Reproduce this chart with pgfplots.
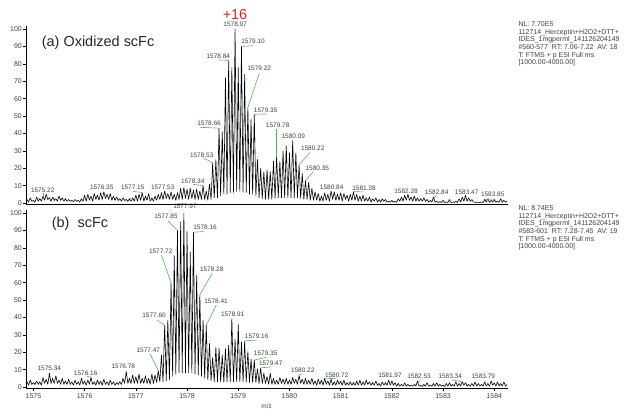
\documentclass[border=0pt]{standalone}
\usepackage{fontspec}
\setmainfont{Liberation Sans}
\usepackage{pgfplots}
\pgfplotsset{compat=1.18}
\definecolor{lblgreen}{RGB}{70,190,70}
\definecolor{plusred}{RGB}{230,35,35}
\definecolor{txtgray}{gray}{0.25}
\pgfplotsset{
 msstyle/.style={
  scale only axis, width=482bp, height=178bp,
  xmin=1574.855, xmax=1584.268, ymin=-0.8, ymax=101.5,
  axis x line=bottom, axis y line=left,
  axis line style={-, black, line width=0.6pt},
  tick align=outside, major tick length=3bp, minor tick length=1.8bp,
  tick style={black, line width=0.5pt},
  ytick={0,10,...,100},
  tick label style={font=\fontsize{7}{8}\selectfont, text=txtgray},
  /pgf/number format/assume math mode=true,
  /pgf/number format/1000 sep={},
  yticklabel style={inner sep=1bp},
  xticklabel style={inner sep=2bp},
  clip=false,
 },
 spec/.style={black, line width=0.6pt, no marks, line join=miter, miter limit=2},
}
\tikzset{
 lbl/.style={font=\fontsize{6.5}{7}\selectfont, text=txtgray, inner sep=0pt},
 gl/.style={lblgreen, line width=0.6pt},
 side/.style={anchor=north west, align=left, inner sep=0pt, font=\fontsize{7}{7.7}\selectfont, text=txtgray},
}
\begin{document}
\begin{tikzpicture}
\useasboundingbox (0,0) rectangle (625bp,409bp);
% ---------------- top panel: (a) oxidized scFc ----------------
\begin{axis}[msstyle, at={(26bp,204.6bp)}, anchor=south west, xtick=\empty]
\addplot[spec] coordinates {
(1574.875,2)(1574.906,0.5)(1574.938,3)(1574.969,1)
(1575.000,1.5)(1575.031,0.5)(1575.063,3.5)(1575.094,1)(1575.125,2.5)(1575.156,1)(1575.188,4)(1575.219,1.5)
(1575.250,5)(1575.281,2)(1575.313,3)(1575.344,1)(1575.375,3.5)(1575.406,1.5)(1575.438,2.5)(1575.469,1)
(1575.500,4)(1575.531,1.5)(1575.563,3)(1575.594,1)(1575.625,2.5)(1575.656,1)(1575.688,2)(1575.719,1)
(1575.750,1.5)(1575.781,0.8)(1575.813,2)(1575.844,1)(1575.875,1.5)(1575.906,0.5)(1575.938,2.5)(1575.969,1)
(1576.000,4.5)(1576.031,1)(1576.063,5)(1576.094,1.5)(1576.125,4)(1576.156,1)(1576.188,5.5)(1576.219,2)
(1576.250,4.5)(1576.281,1.5)(1576.313,6)(1576.344,2)(1576.375,6.5)(1576.406,2.5)(1576.438,5)(1576.469,2)
(1576.500,5.5)(1576.531,1.5)(1576.563,4)(1576.594,1.5)(1576.625,3.5)(1576.656,1.5)(1576.688,2.5)(1576.719,1)
(1576.750,3)(1576.781,1.5)(1576.813,2)(1576.844,1)(1576.875,2.5)(1576.906,1)(1576.938,3)(1576.969,1)
(1577.000,4.5)(1577.031,1)(1577.063,5)(1577.094,1.5)(1577.125,6)(1577.156,1)(1577.188,4)(1577.219,1.5)
(1577.250,5.5)(1577.281,1)(1577.313,3)(1577.344,1)(1577.375,4)(1577.406,1.5)(1577.438,5)(1577.469,2)
(1577.500,6)(1577.531,2)(1577.563,7)(1577.594,2.5)(1577.625,5.5)(1577.656,2)(1577.688,6.5)(1577.719,2)
(1577.750,5)(1577.781,1.5)(1577.813,6)(1577.844,2)(1577.875,8.5)(1577.906,2)(1577.938,9)(1577.969,2.5)
(1578.000,8)(1578.031,2)(1578.063,8.5)(1578.094,2.5)(1578.125,7.5)(1578.156,2)(1578.188,8)(1578.219,2)
(1578.250,7)(1578.281,2)(1578.313,10)(1578.344,2)(1578.375,7)(1578.406,1.5)(1578.438,11)(1578.469,2)
(1578.500,23)(1578.531,3)(1578.563,25)(1578.594,3)(1578.625,43)(1578.656,4)(1578.688,41)(1578.719,5)
(1578.750,72)(1578.781,5)(1578.813,82)(1578.844,6)(1578.875,78)(1578.906,6)(1578.938,100)(1578.969,6.5)
(1579.000,78)(1579.031,6.5)(1579.063,90)(1579.094,6)(1579.125,74)(1579.156,6)(1579.188,55)(1579.219,5)
(1579.250,48)(1579.281,5)(1579.313,51)(1579.344,4)(1579.375,25)(1579.406,3)(1579.438,20)(1579.469,2.5)
(1579.500,18)(1579.531,2)(1579.563,19)(1579.594,2)(1579.625,18)(1579.656,2)(1579.688,24)(1579.719,2.5)
(1579.750,27)(1579.781,3)(1579.813,24)(1579.844,3)(1579.875,30)(1579.906,3)(1579.938,33)(1579.969,3)
(1580.000,29)(1580.031,3)(1580.063,36)(1580.094,3)(1580.125,29)(1580.156,3)(1580.188,22)(1580.219,2.5)
(1580.250,17)(1580.281,2)(1580.313,13)(1580.344,2)(1580.375,12)(1580.406,1.5)(1580.438,8.5)(1580.469,1.5)
(1580.500,6.5)(1580.531,1.5)(1580.563,5.5)(1580.594,1)(1580.625,4)(1580.656,1)(1580.688,6)(1580.719,1.5)
(1580.750,5)(1580.781,1)(1580.813,7)(1580.844,2)(1580.875,6.5)(1580.906,1.5)(1580.938,5)(1580.969,1.5)
(1581.000,6)(1581.031,1)(1581.063,5.5)(1581.094,2)(1581.125,4.5)(1581.156,1)(1581.188,5)(1581.219,1.5)
(1581.250,6.5)(1581.281,1.5)(1581.313,5)(1581.344,1)(1581.375,4)(1581.406,1)(1581.438,4.5)(1581.469,1)
(1581.500,3)(1581.531,1)(1581.563,3.5)(1581.594,0.5)(1581.625,2.5)(1581.656,1)(1581.688,3)(1581.719,0.5)
(1581.750,2)(1581.781,0.5)(1581.813,2.5)(1581.844,1)(1581.875,2)(1581.906,0.5)(1581.938,1)(1581.969,0.5)
(1582.000,1.5)(1582.031,0.5)(1582.063,1)(1582.094,0.5)(1582.125,2.5)(1582.156,1)(1582.188,3.5)(1582.219,1)
(1582.250,4.5)(1582.281,1.5)(1582.313,5)(1582.344,1.5)(1582.375,3.5)(1582.406,1)(1582.438,4)(1582.469,1)
(1582.500,3)(1582.531,1)(1582.563,2.5)(1582.594,1)(1582.625,3)(1582.656,1)(1582.688,2)(1582.719,0.5)
(1582.750,1.5)(1582.781,0.5)(1582.813,3.5)(1582.844,0.5)(1582.875,1)(1582.906,0.3)(1582.938,0.8)(1582.969,0.3)
(1583.000,1.5)(1583.031,0.3)(1583.063,0.5)(1583.094,0.3)(1583.125,2)(1583.156,0.3)(1583.188,0.5)(1583.219,0.3)
(1583.250,1)(1583.281,0.3)(1583.313,2.5)(1583.344,0.5)(1583.375,3.5)(1583.406,1)(1583.438,4.5)(1583.469,1)
(1583.500,3)(1583.531,1)(1583.563,2)(1583.594,0.5)(1583.625,0.5)(1583.656,0.3)(1583.688,0.5)(1583.719,0.3)
(1583.750,0.5)(1583.781,0.3)(1583.813,2)(1583.844,0.5)(1583.875,2.5)(1583.906,0.5)(1583.938,1.5)(1583.969,0.5)
(1584.000,2)(1584.031,0.5)(1584.063,1)(1584.094,0.5)(1584.125,2.5)(1584.156,0.5)(1584.188,1.5)(1584.219,0.5)(1584.250,1)
};
% labels
\node[font=\fontsize{14.5}{16}\selectfont, text=plusred, inner sep=0pt] at (axis cs:1578.937,108.6) {+16};
\node[lbl] at (axis cs:1578.94,102.9) {1578.97};
\draw[gl] (axis cs:1579.0625,90) -- (axis cs:1579.29,90.4);
\node[lbl] at (axis cs:1579.29,93.2) {1579.10};
\draw[gl] (axis cs:1578.62,82.2) -- (axis cs:1578.8125,82);
\node[lbl] at (axis cs:1578.611,84.6) {1578.84};
\draw[gl] (axis cs:1579.41,74.5) -- (axis cs:1579.1875,55);
\node[lbl] at (axis cs:1579.411,77.2) {1579.22};
\draw[gl] (axis cs:1578.25,43.5) -- (axis cs:1578.625,43);
\node[lbl] at (axis cs:1578.429,45.6) {1578.66};
\draw[gl] (axis cs:1579.3125,51) -- (axis cs:1579.56,51.2);
\node[lbl] at (axis cs:1579.536,53.4) {1579.35};
\draw[gl] (axis cs:1579.75,42.3) -- (axis cs:1579.75,27);
\node[lbl] at (axis cs:1579.77,44.6) {1579.78};
\node[lbl] at (axis cs:1580.075,38.1) {1580.09};
\draw[gl] (axis cs:1580.40,29) -- (axis cs:1580.1875,22);
\node[lbl] at (axis cs:1580.454,31.4) {1580.22};
\draw[gl] (axis cs:1580.47,18) -- (axis cs:1580.3125,13);
\node[lbl] at (axis cs:1580.544,19.9) {1580.35};
\draw[gl] (axis cs:1578.32,26) -- (axis cs:1578.5,23);
\node[lbl] at (axis cs:1578.287,27.6) {1578.53};
\draw[gl] (axis cs:1578.12,10.7) -- (axis cs:1578.3125,10);
\node[lbl] at (axis cs:1578.111,12.4) {1578.34};
\node[lbl] at (axis cs:1577.525,8.8) {1577.53};
\draw[gl] (axis cs:1576.94,6.7) -- (axis cs:1577.125,6);
\node[lbl] at (axis cs:1576.939,8.8) {1577.15};
\node[lbl] at (axis cs:1576.334,8.8) {1576.35};
\draw[gl] (axis cs:1575.19,5.8) -- (axis cs:1575.19,4);
\node[lbl] at (axis cs:1575.182,7.4) {1575.22};
\node[lbl] at (axis cs:1580.825,8.8) {1580.84};
\draw[gl] (axis cs:1581.25,6.5) -- (axis cs:1581.45,6.4);
\node[lbl] at (axis cs:1581.456,8.3) {1581.28};
\node[lbl] at (axis cs:1582.276,6.8) {1582.28};
\draw[gl] (axis cs:1582.87,4.3) -- (axis cs:1582.82,3);
\node[lbl] at (axis cs:1582.875,6.2) {1582.84};
\node[lbl] at (axis cs:1583.461,6.2) {1583.47};
\draw[gl] (axis cs:1583.82,2) -- (axis cs:1584.0,2.4);
\node[lbl] at (axis cs:1583.97,4.8) {1583.85};
\end{axis}
% ---------------- bottom panel: (b) scFc ----------------
\begin{axis}[msstyle, at={(26bp,20.6bp)}, anchor=south west,
  xtick={1575,1576,...,1584}, minor x tick num=4]
\addplot[spec] coordinates {
(1574.875,3)(1574.906,1)(1574.938,4)(1574.969,1.5)
(1575.000,2.5)(1575.031,1.5)(1575.063,3.5)(1575.094,1.5)(1575.125,3)(1575.156,1)(1575.188,5.5)(1575.219,2)
(1575.250,4.5)(1575.281,1.5)(1575.313,8)(1575.344,2)(1575.375,5)(1575.406,2)(1575.438,6.5)(1575.469,2)
(1575.500,4)(1575.531,1.5)(1575.563,5)(1575.594,1.5)(1575.625,3.5)(1575.656,1.5)(1575.688,4.5)(1575.719,1.5)
(1575.750,3)(1575.781,1)(1575.813,4)(1575.844,1.5)(1575.875,3)(1575.906,1)(1575.938,5)(1575.969,1.5)
(1576.000,3.5)(1576.031,1)(1576.063,4)(1576.094,1.5)(1576.125,5.5)(1576.156,1.5)(1576.188,3)(1576.219,1)
(1576.250,4)(1576.281,1.5)(1576.313,3.5)(1576.344,1)(1576.375,4.5)(1576.406,1.5)(1576.438,3)(1576.469,1)
(1576.500,4)(1576.531,1.5)(1576.563,3)(1576.594,1)(1576.625,2.5)(1576.656,1.5)(1576.688,3)(1576.719,1.5)
(1576.750,5)(1576.781,2)(1576.813,9)(1576.844,2)(1576.875,5)(1576.906,2)(1576.938,7)(1576.969,2)
(1577.000,6)(1577.031,2)(1577.063,7.5)(1577.094,2)(1577.125,5)(1577.156,2)(1577.188,6.5)(1577.219,2)
(1577.250,5)(1577.281,1.5)(1577.313,7.5)(1577.344,2)(1577.375,7)(1577.406,2.5)(1577.438,9.5)(1577.469,3)
(1577.500,18.5)(1577.531,3)(1577.563,35.5)(1577.594,3.5)(1577.625,38.5)(1577.656,4)(1577.688,60)(1577.719,6)
(1577.750,75.5)(1577.781,7)(1577.813,90)(1577.844,8)(1577.875,95)(1577.906,8)(1577.938,100)(1577.969,8)
(1578.000,89.5)(1578.031,8)(1578.063,77.5)(1578.094,8)(1578.125,89)(1578.156,7.5)(1578.188,64.5)(1578.219,7)
(1578.250,53)(1578.281,6)(1578.313,38.5)(1578.344,5)(1578.375,35.5)(1578.406,4)(1578.438,25)(1578.469,3.5)
(1578.500,17)(1578.531,3)(1578.563,23)(1578.594,3)(1578.625,22.5)(1578.656,3)(1578.688,18.5)(1578.719,2.5)
(1578.750,22)(1578.781,3)(1578.813,24)(1578.844,3)(1578.875,39.5)(1578.906,3)(1578.938,27.5)(1578.969,3)
(1579.000,36)(1579.031,3)(1579.063,26)(1579.094,3)(1579.125,26.5)(1579.156,3)(1579.188,20.5)(1579.219,2.5)
(1579.250,16)(1579.281,2.5)(1579.313,15.5)(1579.344,2.5)(1579.375,10.5)(1579.406,2)(1579.438,11)(1579.469,2)
(1579.500,8)(1579.531,2)(1579.563,6)(1579.594,1.5)(1579.625,8)(1579.656,1.5)(1579.688,5)(1579.719,1.5)
(1579.750,4)(1579.781,1.5)(1579.813,5.5)(1579.844,2)(1579.875,4.5)(1579.906,1.5)(1579.938,5)(1579.969,1.5)
(1580.000,4)(1580.031,1.5)(1580.063,5.5)(1580.094,2)(1580.125,4.5)(1580.156,1.5)(1580.188,6.5)(1580.219,2)
(1580.250,4.5)(1580.281,1.5)(1580.313,5)(1580.344,1.5)(1580.375,4)(1580.406,1.5)(1580.438,5)(1580.469,1.5)
(1580.500,3.5)(1580.531,1)(1580.563,4.5)(1580.594,1.5)(1580.625,4)(1580.656,1)(1580.688,5)(1580.719,1.5)
(1580.750,3.5)(1580.781,1)(1580.813,4.5)(1580.844,1)(1580.875,3)(1580.906,1)(1580.938,4)(1580.969,1.5)
(1581.000,3.5)(1581.031,1)(1581.063,4)(1581.094,1)(1581.125,2.5)(1581.156,1)(1581.188,3)(1581.219,1)
(1581.250,2.5)(1581.281,1)(1581.313,3.5)(1581.344,1)(1581.375,4)(1581.406,1)(1581.438,3)(1581.469,1)
(1581.500,4)(1581.531,1.5)(1581.563,3)(1581.594,1)(1581.625,2.5)(1581.656,1)(1581.688,3.5)(1581.719,1)
(1581.750,2)(1581.781,0.5)(1581.813,3)(1581.844,1)(1581.875,2.5)(1581.906,1)(1581.938,4)(1581.969,1)
(1582.000,3.5)(1582.031,1)(1582.063,2.5)(1582.094,0.5)(1582.125,2)(1582.156,0.5)(1582.188,1.5)(1582.219,0.5)
(1582.250,2.5)(1582.281,0.5)(1582.313,1.5)(1582.344,0.5)(1582.375,1)(1582.406,0.5)(1582.438,1.5)(1582.469,0.5)
(1582.500,3.5)(1582.531,0.5)(1582.563,1)(1582.594,0.3)(1582.625,1.5)(1582.656,0.5)(1582.688,2.5)(1582.719,0.5)
(1582.750,1)(1582.781,0.5)(1582.813,2)(1582.844,0.5)(1582.875,2.5)(1582.906,0.5)(1582.938,1.5)(1582.969,0.5)
(1583.000,1)(1583.031,0.3)(1583.063,2)(1583.094,0.5)(1583.125,2.5)(1583.156,0.5)(1583.188,1.5)(1583.219,0.5)
(1583.250,3)(1583.281,0.5)(1583.313,2)(1583.344,0.5)(1583.375,3)(1583.406,1)(1583.438,2.5)(1583.469,0.5)
(1583.500,1.5)(1583.531,0.5)(1583.563,2)(1583.594,0.5)(1583.625,3)(1583.656,0.5)(1583.688,2)(1583.719,0.5)
(1583.750,1.5)(1583.781,0.5)(1583.813,3)(1583.844,0.5)(1583.875,2)(1583.906,0.5)(1583.938,3.5)(1583.969,1)
(1584.000,2.5)(1584.031,0.5)(1584.063,3)(1584.094,0.5)(1584.125,2)(1584.156,0.5)(1584.188,3)(1584.219,0.5)(1584.250,1.5)
};
\node[lbl] at (axis cs:1577.96,103.6) {1577.97};
\draw[gl] (axis cs:1577.63,95.4) -- (axis cs:1577.8125,90);
\node[lbl] at (axis cs:1577.589,97.9) {1577.85};
\draw[gl] (axis cs:1578.125,89) -- (axis cs:1578.33,89.3);
\node[lbl] at (axis cs:1578.351,91.6) {1578.16};
\draw[gl] (axis cs:1577.50,75.8) -- (axis cs:1577.6875,60);
\node[lbl] at (axis cs:1577.486,78.2) {1577.72};
\draw[gl] (axis cs:1578.49,65.3) -- (axis cs:1578.25,53);
\node[lbl] at (axis cs:1578.482,67.6) {1578.28};
\draw[gl] (axis cs:1578.57,47) -- (axis cs:1578.375,35.5);
\node[lbl] at (axis cs:1578.566,49.4) {1578.41};
\draw[gl] (axis cs:1577.41,38.5) -- (axis cs:1577.5625,35.5);
\node[lbl] at (axis cs:1577.355,41) {1577.60};
\node[lbl] at (axis cs:1578.892,41.8) {1578.91};
\draw[gl] (axis cs:1579.125,26.5) -- (axis cs:1579.36,27);
\node[lbl] at (axis cs:1579.36,29.2) {1579.16};
\draw[gl] (axis cs:1577.28,19) -- (axis cs:1577.4375,9.5);
\node[lbl] at (axis cs:1577.244,21) {1577.47};
\draw[gl] (axis cs:1579.3125,15.5) -- (axis cs:1579.54,17);
\node[lbl] at (axis cs:1579.536,19.4) {1579.35};
\draw[gl] (axis cs:1579.4375,11) -- (axis cs:1579.65,11.6);
\node[lbl] at (axis cs:1579.634,13.8) {1579.47};
\draw[gl] (axis cs:1580.17,6.8) -- (axis cs:1580.24,7.4);
\node[lbl] at (axis cs:1580.259,9.4) {1580.22};
\node[lbl] at (axis cs:1575.31,10.7) {1575.34};
\draw[gl] (axis cs:1576.04,6.3) -- (axis cs:1576.13,5.5);
\node[lbl] at (axis cs:1576.02,8.1) {1576.16};
\node[lbl] at (axis cs:1576.755,11.7) {1576.78};
\draw[gl] (axis cs:1580.69,5) -- (axis cs:1580.92,4.8);
\node[lbl] at (axis cs:1580.923,6.8) {1580.72};
\node[lbl] at (axis cs:1581.963,6.8) {1581.97};
\draw[gl] (axis cs:1582.56,4.2) -- (axis cs:1582.51,2);
\node[lbl] at (axis cs:1582.53,5.9) {1582.53};
\draw[gl] (axis cs:1583.17,4.2) -- (axis cs:1583.37,3);
\node[lbl] at (axis cs:1583.14,5.9) {1583.34};
\node[lbl] at (axis cs:1583.785,5.9) {1583.79};
\end{axis}
% panel titles and side text
\node[anchor=west, inner sep=0pt, font=\fontsize{14.5}{16}\selectfont, text=black!85] at (41.7bp,366.3bp) {(a) Oxidized scFc};
\node[anchor=west, inner sep=0pt, font=\fontsize{14.5}{16}\selectfont, text=black!85] at (51.7bp,185bp) {(b)\ \ scFc};
\node[inner sep=0pt, font=\fontsize{6.5}{7}\selectfont, text=txtgray] at (266.7bp,2.6bp) {m/z};
\node[side] at (518.3bp,387.5bp)
 {NL: 7.70E5\\112714\_Herceptin+H2O2+DTT+\\IDES\_1mgperml\_141126204149\\\#560-577\ \ RT: 7.06-7.22\ \ AV: 18\\T: FTMS + p ESI Full ms\\{[1000.00-4000.00]}};
\node[side] at (518.3bp,203.5bp)
 {NL: 8.74E5\\112714\_Herceptin+H2O2+DTT+\\IDES\_1mgperml\_141126204149\\\#583-601\ \ RT: 7.28-7.45\ \ AV: 19\\T: FTMS + p ESI Full ms\\{[1000.00-4000.00]}};
\end{tikzpicture}
\end{document}
